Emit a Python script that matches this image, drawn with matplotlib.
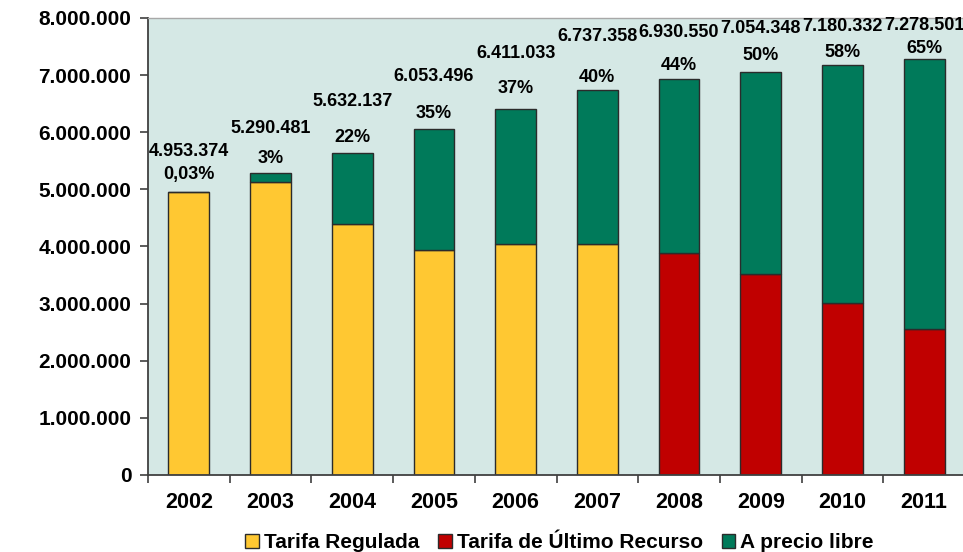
import numpy as np
import matplotlib.pyplot as plt
from matplotlib.ticker import FuncFormatter, MultipleLocator, FixedLocator

# === DATA ===
years = ["2002", "2003", "2004", "2005", "2006", "2007", "2008", "2009", "2010", "2011"]
totals = [4953374, 5290481, 5632137, 6053496, 6411033, 6737358, 6930550, 7054348, 7180332, 7278501]
libre_pct = [0.03, 3, 22, 35, 37, 40, 44, 50, 58, 65]
pct_labels = ["0,03%", "3%", "22%", "35%", "37%", "40%", "44%", "50%", "58%", "65%"]
# bottom segment: regulated tariff up to 2007, last-resort tariff from 2008
is_tur = [False, False, False, False, False, False, True, True, True, True]

# label offsets above bar top (pixels)
pct_off = [18, 14, 16, 16, 20, 13, 14, 17, 12, 11]
tot_off = [41, 44, 52, 53, 55, 54, 47, 44, 38, 34]

# === COLORS ===
c_reg = "#FFC832"
c_tur = "#C00000"
c_lib = "#007A5A"
c_bg = "#D5E8E5"

totals = np.array(totals, dtype=float)
libre = totals * np.array(libre_pct) / 100.0
base = totals - libre
reg = np.where(is_tur, 0, base)
tur = np.where(is_tur, base, 0)

plt.rcParams["font.family"] = ["Liberation Sans", "DejaVu Sans"]
plt.rcParams["font.weight"] = "bold"

fig = plt.figure(figsize=(9.63, 5.52), dpi=100)
ax = fig.add_axes([0.1537, 0.1395, 0.8484, 0.8279])
ax.set_facecolor(c_bg)

x = np.arange(len(years))
w = 0.5
edge = dict(edgecolor="#2b2b2b", linewidth=1.0)
b1 = ax.bar(x, reg, w, color=c_reg, label="Tarifa Regulada", **edge)
b2 = ax.bar(x, tur, w, color=c_tur, label="Tarifa de Último Recurso", **edge)
b3 = ax.bar(x, libre, w, bottom=base, color=c_lib, label="A precio libre", **edge)
# hide zero-height segments' edges
for r, v in zip(b1, reg):
    if v == 0:
        r.set_visible(False)
for r, v in zip(b2, tur):
    if v == 0:
        r.set_visible(False)

for i in range(len(years)):
    ax.annotate(pct_labels[i], (x[i], totals[i]), xytext=(0, pct_off[i]),
                textcoords="offset pixels", ha="center", va="center",
                fontsize=13, fontweight="bold")
    s = f"{int(totals[i]):,}".replace(",", ".")
    ax.annotate(s, (x[i], totals[i]), xytext=(0, tot_off[i]),
                textcoords="offset pixels", ha="center", va="center",
                fontsize=13, fontweight="bold")

ax.set_xlim(-0.5, len(years) - 0.5)
ax.set_ylim(0, 8000000)
ax.yaxis.set_major_locator(MultipleLocator(1000000))
ax.yaxis.set_major_formatter(FuncFormatter(lambda v, p: f"{int(v):,}".replace(",", ".")))
ax.set_xticks(x)
ax.set_xticklabels(years)
ax.xaxis.set_minor_locator(FixedLocator(np.arange(-0.5, len(years), 1.0)))
ax.tick_params(axis="x", which="major", length=0, pad=12, labelsize=15.5)
ax.tick_params(axis="x", which="minor", length=6, width=1.2, color="#404040")
ax.tick_params(axis="y", length=6, width=1.2, color="#404040", pad=6, labelsize=15)

for sp in ["left", "bottom"]:
    ax.spines[sp].set_color("#404040")
    ax.spines[sp].set_linewidth(1.3)
ax.spines["top"].set_color("#a8a8a8")
ax.spines["top"].set_linewidth(1.0)
ax.spines["right"].set_visible(False)

leg = fig.legend(handles=[b1, b2, b3], loc="center", bbox_to_anchor=(0.581, 0.017),
                 ncol=3, frameon=False, fontsize=15, handlelength=0.65,
                 handleheight=0.65, handletextpad=0.25, columnspacing=0.9)
for h in leg.legend_handles:
    h.set_visible(True)

fig.savefig("out.png", dpi=100)
